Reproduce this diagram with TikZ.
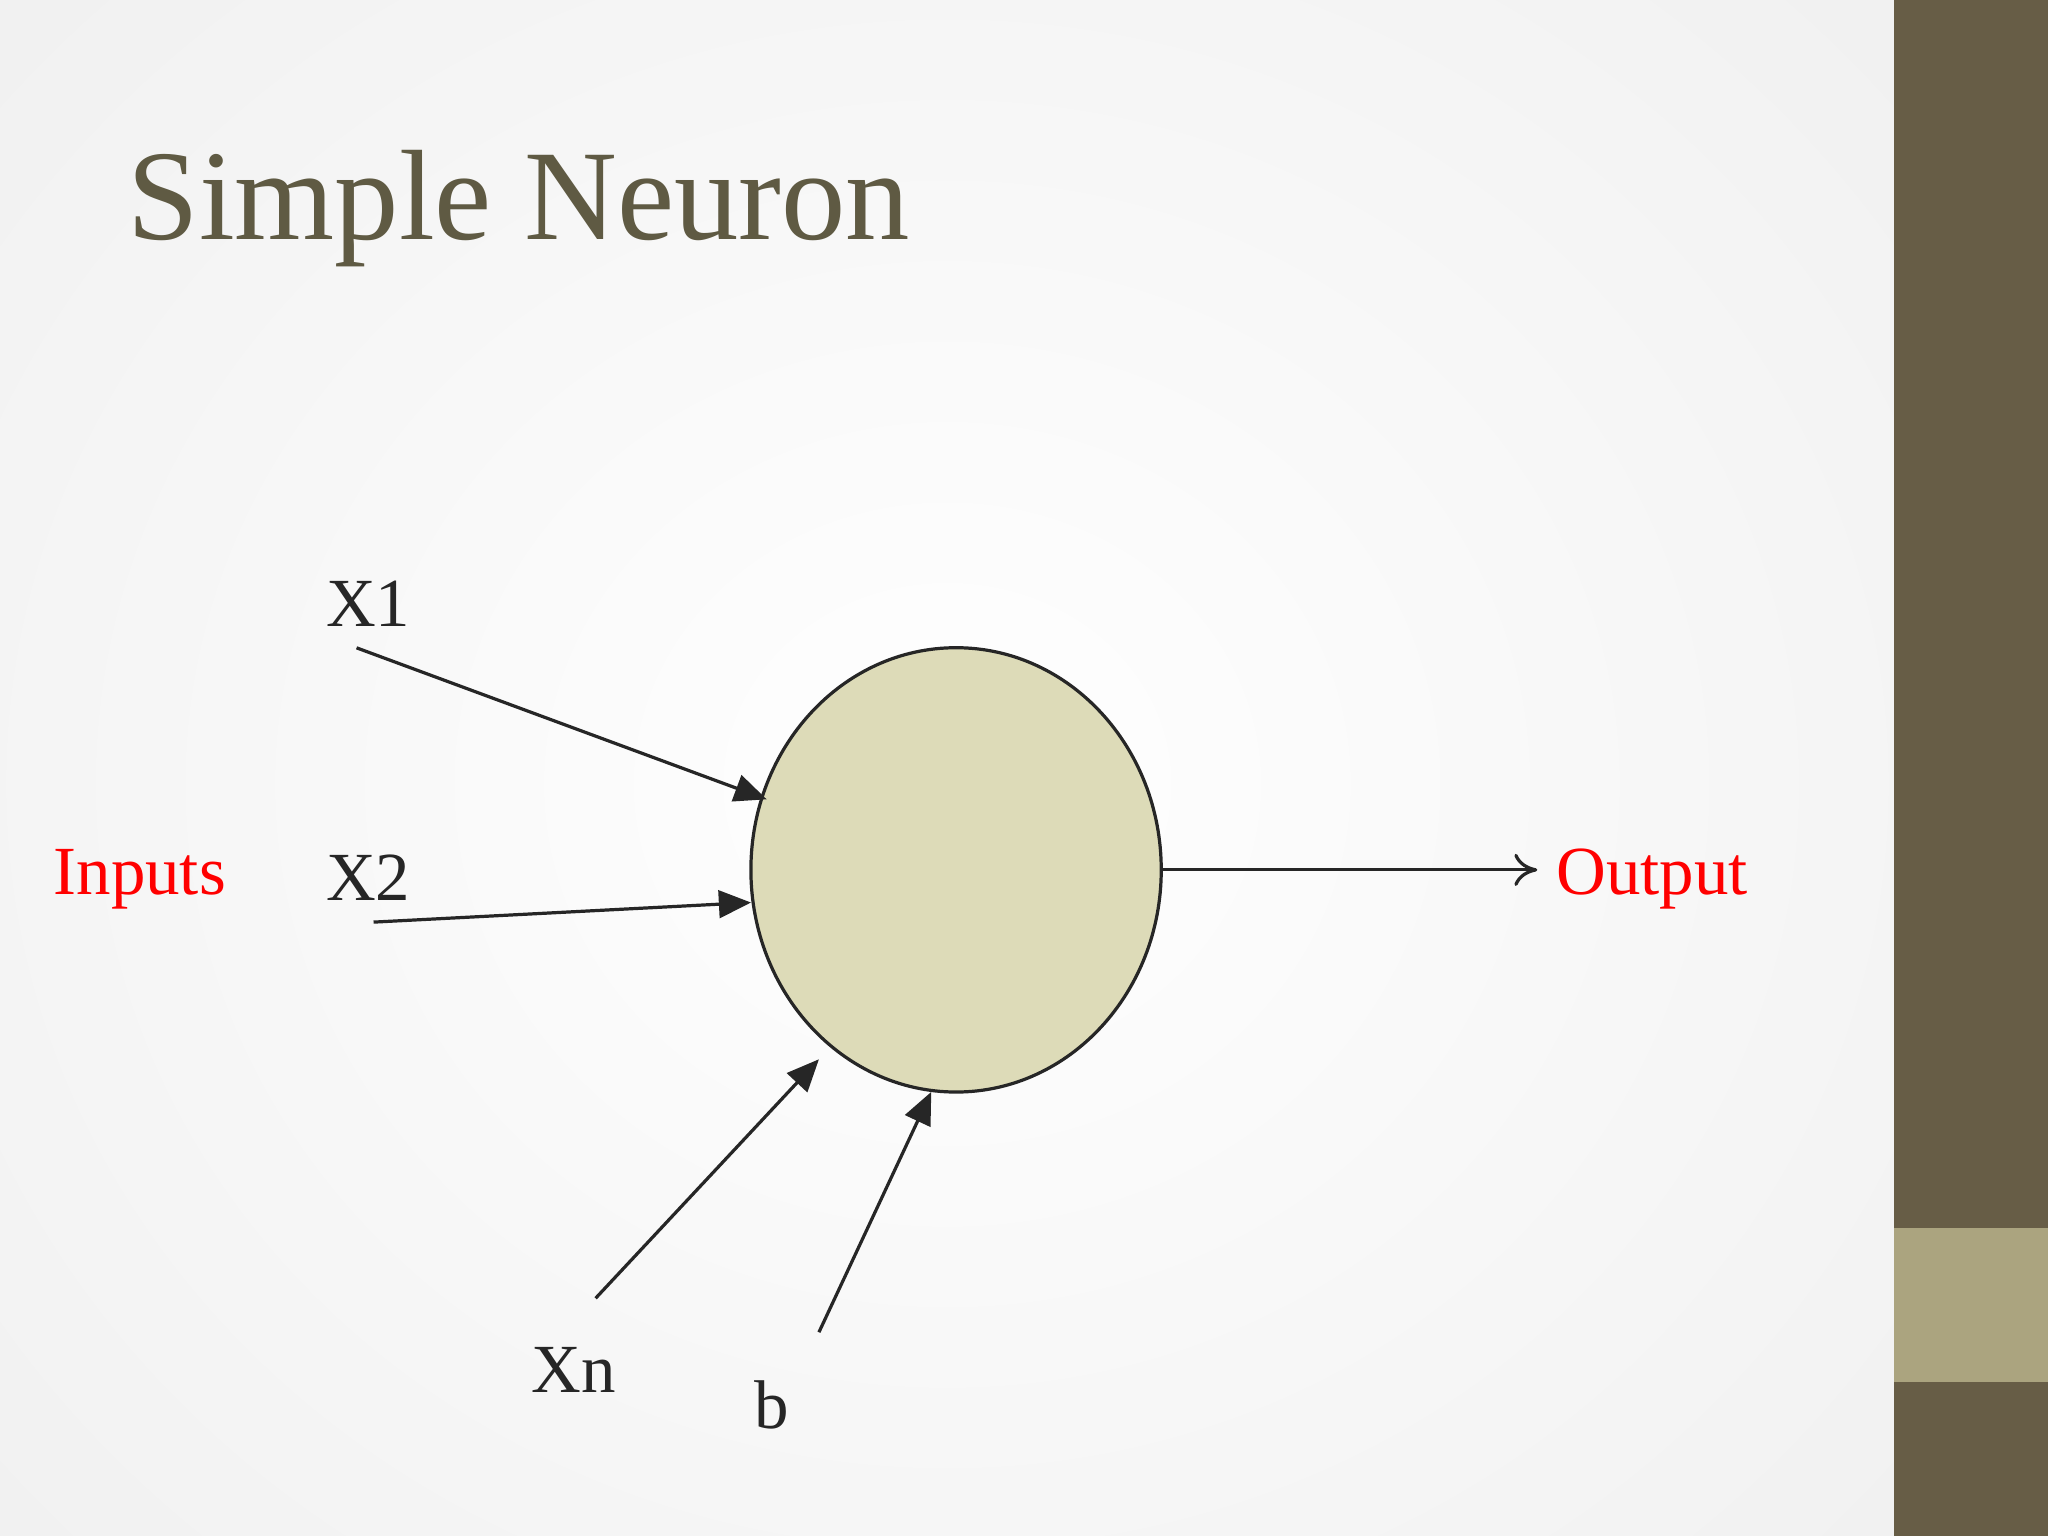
\documentclass[tikz,border=0pt]{standalone}
\usepackage{fontspec}
\setmainfont{Liberation Serif}
\usetikzlibrary{arrows.meta,shapes.geometric}
\definecolor{bar}{HTML}{675D46}
\definecolor{barlight}{HTML}{ABA47F}
\definecolor{titlec}{HTML}{5F5A43}
\definecolor{cellfill}{HTML}{DDDBB8}
\tikzset{
  inarrow/.style={draw=black!85, line width=0.7pt, -{Triangle[length=7pt,width=6pt]}},
  outarrow/.style={draw=black!85, line width=0.7pt, -{To[length=5pt,width=7pt]}},
  lbl/.style={font=\fontsize{15}{15}\selectfont, text=black!85},
  redlbl/.style={font=\fontsize{15}{15}\selectfont, text=red}
}
\begin{document}
\begin{tikzpicture}[x=0.01cm,y=-0.01cm]
\useasboundingbox (0,0) rectangle (1568,1176);
\shade[inner color=white, outer color=black!7] (-500,-500) rectangle (1950,1700);
\fill[bar] (1450,0) rectangle (1568,1176);
\fill[barlight] (1450,940) rectangle (1568,1058);
\node[anchor=base west, text=titlec, font=\fontsize{28}{28}\selectfont, inner sep=0] (title) at (97,183) {Simple Neuron};
\node[ellipse, draw=black!85, line width=0.7pt, fill=cellfill, minimum width=3.14cm, minimum height=3.4cm, inner sep=0] (cell) at (732,666) {};
\coordinate (x1s) at (273,496); \coordinate (x1e) at (587,612);
\coordinate (x2s) at (286,706); \coordinate (x2e) at (575,691);
\coordinate (xns) at (456,994); \coordinate (xne) at (627,811);
\coordinate (bs) at (627,1020); \coordinate (be) at (713,836);
\coordinate (oe) at (1177,666);
\draw[inarrow] (x1s) -- (x1e);
\draw[inarrow] (x2s) -- (x2e);
\draw[inarrow] (xns) -- (xne);
\draw[inarrow] (bs) -- (be);
\draw[outarrow] (cell.east) -- (oe);
\node[lbl] (lx1) at (282,462) {X1};
\node[lbl] (lx2) at (282,672) {X2};
\node[redlbl] (lin) at (107,673) {Inputs};
\node[redlbl] (lout) at (1265,673) {Output};
\node[lbl] (lxn) at (439,1049) {Xn};
\node[lbl] (lb) at (591,1076) {b};
\end{tikzpicture}
\end{document}
